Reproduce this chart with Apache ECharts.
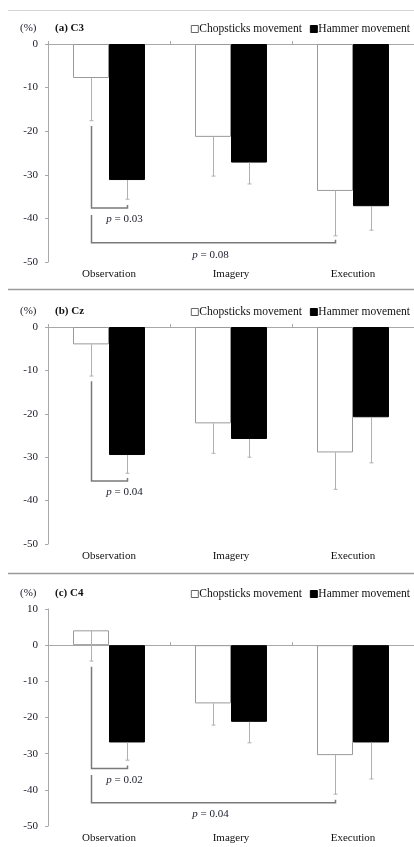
<!DOCTYPE html>
<html>
<head>
<meta charset="utf-8">
<script src="https://cdn.jsdelivr.net/npm/echarts@6/dist/echarts.min.js"></script>
<style>
html,body{margin:0;padding:0;background:#fff;}
#main{width:414px;height:847px;}
</style>
</head>
<body>
<div id="main"></div>
<script>
var categories = ['Observation', 'Imagery', 'Execution'];
var panelTitles = ['(a) C3', '(b) Cz', '(c) C4'];
var seriesNames = ['Chopsticks movement', 'Hammer movement'];

// bar values (%) and lower end of the error bars
var chopC3 = [-7.8, -21.3, -33.7];
var chopC3Low = [-17.6, -30.3, -44.0];
var hamC3 = [-31.2, -27.2, -37.2];
var hamC3Low = [-35.6, -32.1, -42.7];

var chopCz = [-4.0, -22.2, -28.9];
var chopCzLow = [-11.3, -29.1, -37.4];
var hamCz = [-29.5, -25.8, -20.8];
var hamCzLow = [-33.7, -30.0, -31.3];

var chopC4 = [4.1, -16.1, -30.4];
var chopC4Low = [-4.4, -22.1, -41.2];
var hamC4 = [-26.9, -21.2, -26.9];
var hamC4Low = [-31.8, -27.0, -37.0];

var yMin = [-50, -50, -50];
var yMax = [0, 0, 10];

// significance brackets: from/to = [category, side], side -1 chopsticks, 1 hammer
var bracketsC3 = [
	{from: [0, -1], to: [0, 1], top: -18.8, bottom: -37.6, labelAt: -40.2, p: '0.03'},
	{from: [0, -1], to: [2, -1], top: -39.2, bottom: -45.6, labelAt: -48.4, p: '0.08'}
];
var bracketsCz = [
	{from: [0, -1], to: [0, 1], top: -12.5, bottom: -35.5, labelAt: -38.1, p: '0.04'}
];
var bracketsC4 = [
	{from: [0, -1], to: [0, 1], top: -6.0, bottom: -34.1, labelAt: -37.3, p: '0.02'},
	{from: [0, -1], to: [2, -1], top: -35.9, bottom: -43.6, labelAt: -46.8, p: '0.04'}
];

var panels = [
	{chop: chopC3, chopLow: chopC3Low, ham: hamC3, hamLow: hamC3Low, brackets: bracketsC3},
	{chop: chopCz, chopLow: chopCzLow, ham: hamCz, hamLow: hamCzLow, brackets: bracketsCz},
	{chop: chopC4, chopLow: chopC4Low, ham: hamC4, hamLow: hamC4Low, brackets: bracketsC4}
];

var FONT = 'Liberation Serif';
var BAR_RATIO = 0.295;
var gridTops = [44, 327, 609];
var gridHeights = [218, 217, 217];

function errorRenderer(side){
	return function(params, api){
		var idx = api.value(0);
		var top = api.coord([idx, api.value(1)]);
		var bot = api.coord([idx, api.value(2)]);
		var band = api.size([1, 0])[0];
		var x = Math.round(top[0] + side * band * BAR_RATIO / 2) + 0.5;
		var style = {stroke: '#b0b0b0', lineWidth: 1};
		return {type: 'group', children: [
			{type: 'line', shape: {x1: x, y1: top[1], x2: x, y2: bot[1]}, style: style},
			{type: 'line', shape: {x1: x - 2, y1: bot[1], x2: x + 2, y2: bot[1]}, style: style}
		]};
	};
}

function bracketRenderer(list){
	return function(params, api){
		var b = list[params.dataIndex];
		var band = api.size([1, 0])[0];
		var half = band * BAR_RATIO / 2;
		var p1 = api.coord([api.value(0), api.value(2)]);
		var p2 = api.coord([api.value(1), api.value(3)]);
		var lab = api.coord([api.value(1), api.value(4)]);
		var x1 = Math.round(p1[0] + b.from[1] * half) + 0.5;
		var x2 = Math.round(p2[0] + b.to[1] * half) + 0.5;
		var yTop = p1[1];
		var yBot = p2[1];
		var lx = b.from[0] == b.to[0] ? x2 - 3 : (x1 + x2) / 2 - 3;
		var style = {stroke: '#7a7a7a', lineWidth: 1.5, fill: null};
		return {type: 'group', children: [
			{type: 'polyline', shape: {points: [[x1, yTop], [x1, yBot], [x2, yBot], [x2, yBot - 3]]}, style: style},
			{type: 'text', style: {
				x: lx, y: lab[1], text: '{i|p} = ' + b.p,
				align: 'center', verticalAlign: 'middle',
				font: '11px "' + FONT + '"', fill: '#1a1a2a',
				rich: {i: {fontStyle: 'italic', fontSize: 11, fontFamily: FONT}}
			}}
		]};
	};
}

var chart = echarts.init(document.getElementById('main'));

var grid = [], xAxis = [], yAxis = [], series = [], legend = [], graphic = [];

panels.forEach(function(pn, i){
	grid.push({left: 48, top: gridTops[i], width: 366, height: gridHeights[i]});
	// zero line with category ticks
	xAxis.push({
		type: 'category', gridIndex: i, data: categories, position: 'top',
		axisLine: {onZero: true, lineStyle: {color: '#a8a8a8', width: 1}},
		axisTick: {show: true, length: 3, lineStyle: {color: '#a8a8a8'}},
		axisLabel: {show: false}
	});
	// category names at the bottom
	xAxis.push({
		type: 'category', gridIndex: i, data: categories, position: 'bottom',
		axisLine: {show: false, onZero: false}, axisTick: {show: false},
		axisLabel: {margin: 7, fontFamily: FONT, fontSize: 11, color: '#111'}
	});
	yAxis.push({
		type: 'value', gridIndex: i, min: yMin[i], max: yMax[i], interval: 10,
		splitLine: {show: false},
		axisLine: {show: true, lineStyle: {color: '#a8a8a8'}},
		axisTick: {show: true, length: 3, lineStyle: {color: '#a8a8a8'}},
		axisLabel: {margin: 10, fontFamily: FONT, fontSize: 11, color: '#1a1a2a'}
	});
	var xi = i * 2;
	series.push({
		name: seriesNames[0], type: 'bar', xAxisIndex: xi, yAxisIndex: i,
		data: pn.chop, barWidth: (BAR_RATIO * 100) + '%', barGap: '0%',
		itemStyle: {color: '#fff', borderColor: '#9a9a9a', borderWidth: 1}
	});
	series.push({
		name: seriesNames[1], type: 'bar', xAxisIndex: xi, yAxisIndex: i,
		data: pn.ham, barWidth: (BAR_RATIO * 100) + '%', barGap: '0%',
		itemStyle: {color: '#000', borderColor: '#000', borderWidth: 1}
	});
	series.push({
		type: 'custom', xAxisIndex: xi, yAxisIndex: i, z: 5,
		renderItem: errorRenderer(-1),
		encode: {x: 0, y: [1, 2]},
		data: pn.chop.map(function(v, k){ return [k, v, pn.chopLow[k]]; })
	});
	series.push({
		type: 'custom', xAxisIndex: xi, yAxisIndex: i, z: 5,
		renderItem: errorRenderer(1),
		encode: {x: 0, y: [1, 2]},
		data: pn.ham.map(function(v, k){ return [k, v, pn.hamLow[k]]; })
	});
	series.push({
		type: 'custom', xAxisIndex: xi, yAxisIndex: i, z: 6,
		renderItem: bracketRenderer(pn.brackets),
		encode: {x: [0, 1], y: [2, 3]},
		data: pn.brackets.map(function(b){ return [b.from[0], b.to[0], b.top, b.bottom, b.labelAt]; })
	});
	var headY = gridTops[i] - 16;
	legend.push({
		right: 4, top: headY - 5, padding: 0, itemWidth: 7, itemHeight: 7, itemGap: 8,
		icon: 'rect', selectedMode: false,
		textStyle: {fontFamily: FONT, fontSize: 11.5, color: '#111', padding: [0, 0, 0, -4]},
		data: [
			{name: seriesNames[0], itemStyle: {color: '#fff', borderColor: '#666', borderWidth: 1}},
			{name: seriesNames[1], itemStyle: {color: '#000', borderColor: '#000', borderWidth: 1}}
		]
	});
	graphic.push({type: 'text', left: 20, top: headY - 5,
		style: {text: '(%)', font: '11px "' + FONT + '"', fill: '#1a1a2a'}});
	graphic.push({type: 'text', left: 55, top: headY - 5,
		style: {text: panelTitles[i], font: 'bold 11px "' + FONT + '"', fill: '#111'}});
});

graphic.push({type: 'line', shape: {x1: 8, y1: 10.5, x2: 414, y2: 10.5}, style: {stroke: '#d4d4d4', lineWidth: 1}});
graphic.push({type: 'line', shape: {x1: 8, y1: 289.5, x2: 414, y2: 289.5}, style: {stroke: '#9a9a9a', lineWidth: 1.5}});
graphic.push({type: 'line', shape: {x1: 8, y1: 573.5, x2: 414, y2: 573.5}, style: {stroke: '#9a9a9a', lineWidth: 1.5}});

chart.setOption({
	animation: false,
	grid: grid,
	xAxis: xAxis,
	yAxis: yAxis,
	legend: legend,
	graphic: graphic,
	series: series
});
</script>
</body>
</html>
